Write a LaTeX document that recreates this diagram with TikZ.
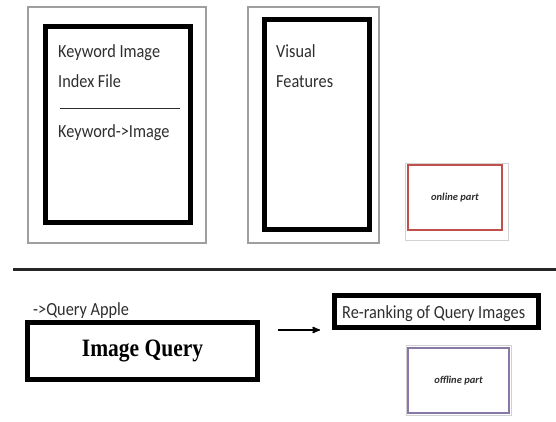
\documentclass[tikz,border=0pt]{standalone}
\usepackage{fontspec}
\setmainfont{Carlito}
\newfontfamily\serifbf{Liberation Serif}
\usetikzlibrary{arrows,positioning}
\definecolor{txtgray}{HTML}{2E2E2E}
\definecolor{partred}{HTML}{C0504D}
\definecolor{partpurple}{HTML}{8878A8}
\newcommand{\narrow}[2][0.88]{\scalebox{#1}[1]{#2}}

\begin{document}
\begin{tikzpicture}[x=1pt,y=-1pt,>=stealth',
  frame node/.style={draw=gray!75,line width=1.5pt,inner sep=0pt,anchor=north west},
  panel node/.style={draw=black,line width=5pt,inner sep=0pt},
  label node/.style={inner sep=0pt,anchor=base west,text=txtgray,font=\fontsize{18.5}{30}\selectfont},
  part node/.style={line width=1.2pt,inner sep=0pt,fill=white,font=\fontsize{10.5}{12}\selectfont\itshape\bfseries,text=txtgray},
  shade node/.style={draw=gray!35,line width=1pt,inner sep=0pt,anchor=north west},
  trans/.style={thick,->,line width=1.6pt}]

  \useasboundingbox (0,0) rectangle (556,421);

  % upper half: index and features
  \node[frame node,minimum width=178pt,minimum height=236pt] (kwframe) at (27,6) {};
  \node[panel node,minimum width=145pt,minimum height=196pt] (kwpanel) at (118,124.5) {};
  \node[label node] (kw1) at (58,57) {\narrow{Keyword Image}};
  \node[label node] (kw2) at (58,87) {\narrow{Index File}};
  \node[label node] (kw3) at (58,137) {\narrow{Keyword->Image}};
  \draw[line width=1pt,txtgray] (60,108) -- (180,108);

  \node[frame node,minimum width=131pt,minimum height=236pt] (vfframe) at (247,6) {};
  \node[panel node,minimum width=105pt,minimum height=210pt] (vfpanel) at (317,124.5) {};
  \node[label node] (vf1) at (276,57) {\narrow{Visual}};
  \node[label node] (vf2) at (276,87) {\narrow{Features}};

  \node[shade node,minimum width=103pt,minimum height=77pt] (onshade) at (405,163) {};
  \node[part node,draw=partred,minimum width=94pt,minimum height=65pt] (online) at (455,197.5) {online part};

  % separator
  \draw[line width=3pt,black!85] (13,269) -- (556,269);

  % lower half: query
  \node[label node] (apple) at (33,315) {\narrow{->Query Apple}};
  \node[panel node,minimum width=230pt,minimum height=57pt,font=\serifbf\bfseries\fontsize{25}{26}\selectfont] (query) at (142.5,351) {\narrow[0.86]{Image Query}};
  \node[panel node,minimum width=204pt,minimum height=32pt] (rerank) at (436.5,311.5) {};
  \node[label node] (rrtext) at (342,318) {\narrow{Re-ranking of Query Images}};

  \node[shade node,minimum width=105pt,minimum height=70pt] (offshade) at (406,345) {};
  \node[part node,draw=partpurple,minimum width=101pt,minimum height=65pt] (offline) at (458.5,380.5) {offline part};

  \path[trans,shorten <=18pt,shorten >=12pt]
    (query.east |- rerank.south) edge (rerank.west |- rerank.south);
\end{tikzpicture}
\end{document}
